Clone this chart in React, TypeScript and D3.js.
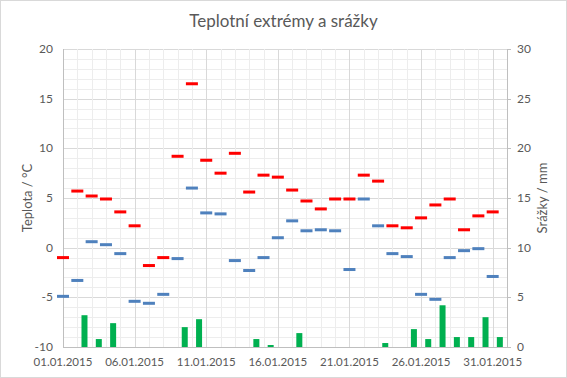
import React from "react";
import * as d3 from "d3";

const dayLabels = ["01.01.2015", "06.01.2015", "11.01.2015", "16.01.2015", "21.01.2015", "26.01.2015", "31.01.2015"];
const days = d3.range(1, 32);
const tMax = [-1.0, 5.7, 5.2, 4.9, 3.6, 2.2, -1.8, -1.0, 9.2, 16.5, 8.8, 7.5, 9.5, 5.6, 7.3, 7.1, 5.8, 4.7, 3.9, 4.9, 4.9, 7.3, 6.7, 2.2, 2.0, 3.0, 4.3, 4.9, 1.8, 3.2, 3.6];
const tMin = [-4.9, -3.3, 0.6, 0.3, -0.6, -5.4, -5.6, -4.7, -1.1, 6.0, 3.5, 3.4, -1.3, -2.3, -1.0, 1.0, 2.7, 1.7, 1.8, 1.7, -2.2, 4.9, 2.2, -0.6, -0.9, -4.7, -5.2, -1.0, -0.3, -0.1, -2.9];
const precip = [0, 3.2, 0.8, 2.4, 0, 0, 0, 0, 2.0, 2.8, 0, 0, 0, 0.8, 0.2, 0, 1.4, 0, 0, 0, 0, 0, 0.4, 0, 1.8, 0.8, 4.2, 1.0, 1.0, 3.0, 1.0];
const tempTicks = [-10, -5, 0, 5, 10, 15, 20];
const precipTicks = [0, 5, 10, 15, 20, 25, 30];

const W = 567, H = 378;
const L = 63, R = 507, T = 49, B = 347;
const FONT = "Lato, 'Liberation Sans', sans-serif";
const TXT = "#595959";

export default function App() {
  const x = d3.scaleLinear().domain([1, 32]).range([L, R]);
  const yT = d3.scaleLinear().domain([-10, 20]).range([B, T]);
  const yP = d3.scaleLinear().domain([0, 30]).range([B, T]);
  const minorY = d3.range(-10, 21, 1);
  const minorX = d3.range(1, 33, 1);
  const labelDays = [1, 6, 11, 16, 21, 26, 31];
  const mw = 12, mh = 3, bw = 6;
  return (
    <svg width={W} height={H} style={{ position: "absolute", left: 0, top: 0, background: "#fff" }}>
      <rect x={0.5} y={0.5} width={W - 1} height={H - 1} fill="#fff" stroke="#D9D9D9" />
      <text x={W / 2} y={27} textAnchor="middle" fontFamily={FONT} fontSize={17} fill={TXT}>Teplotní extrémy a srážky</text>
      {minorY.map((v) => (
        <line key={"my" + v} x1={L} x2={R} y1={Math.round(yT(v)) + 0.5} y2={Math.round(yT(v)) + 0.5} stroke={v % 5 === 0 ? "#D9D9D9" : "#EDEDED"} />
      ))}
      {minorX.map((d) => (
        <line key={"mx" + d} y1={T} y2={B} x1={Math.round(x(d)) + 0.5} x2={Math.round(x(d)) + 0.5} stroke={(d - 1) % 5 === 0 ? "#D9D9D9" : "#EDEDED"} />
      ))}
      <line x1={L} x2={R} y1={B + 0.5} y2={B + 0.5} stroke="#BFBFBF" />
      <line x1={Math.round(L) + 0.5} x2={Math.round(L) + 0.5} y1={T} y2={B} stroke="#BFBFBF" />
      <line x1={Math.round(R) + 0.5} x2={Math.round(R) + 0.5} y1={T} y2={B} stroke="#BFBFBF" />
      {precipTicks.map((v) => (
        <line key={"pt" + v} x1={R} x2={R + 4} y1={Math.round(yP(v)) + 0.5} y2={Math.round(yP(v)) + 0.5} stroke="#BFBFBF" />
      ))}
      {days.map((d, i) => precip[i] > 0 ? (
        <rect key={"b" + d} x={x(d + 0.5) - bw / 2} y={yP(precip[i])} width={bw} height={B - yP(precip[i])} fill="#00B050" />
      ) : null)}
      {days.map((d, i) => (
        <rect key={"mn" + d} x={x(d) - mw / 2} y={yT(tMin[i]) - mh / 2} width={mw} height={mh} fill="#4F81BD" />
      ))}
      {days.map((d, i) => (
        <rect key={"mx" + d} x={x(d) - mw / 2} y={yT(tMax[i]) - mh / 2} width={mw} height={mh} fill="#FF0000" />
      ))}
      {tempTicks.map((v) => (
        <text key={"tl" + v} x={53} y={yT(v) + 4} textAnchor="end" fontFamily={FONT} fontSize={12} fill={TXT}>{v}</text>
      ))}
      {precipTicks.map((v) => (
        <text key={"pl" + v} x={517} y={yP(v) + 4} textAnchor="start" fontFamily={FONT} fontSize={12} fill={TXT}>{v}</text>
      ))}
      {labelDays.map((d, i) => (
        <text key={"xl" + d} x={x(d)} y={366} textAnchor="middle" fontFamily={FONT} fontSize={11.5} fill={TXT}>{dayLabels[i]}</text>
      ))}
      <text transform={`translate(32,${(T + B) / 2}) rotate(-90)`} textAnchor="middle" fontFamily={FONT} fontSize={13} fill={TXT}>Teplota / °C</text>
      <text transform={`translate(547,${(T + B) / 2}) rotate(-90)`} textAnchor="middle" fontFamily={FONT} fontSize={13} fill={TXT}>Srážky / mm</text>
    </svg>
  );
}
